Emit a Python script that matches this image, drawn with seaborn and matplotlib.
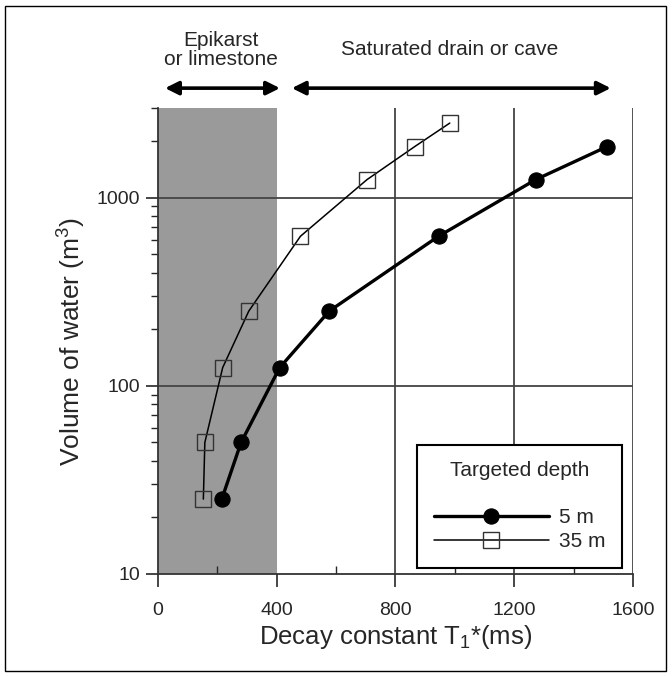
import numpy as np
import pandas as pd
import matplotlib
matplotlib.use('Agg')
import matplotlib.pyplot as plt
from matplotlib.patches import Rectangle
from matplotlib.ticker import FixedLocator, LogLocator, NullFormatter
import seaborn as sns

sns.set_theme(style='ticks')
plt.rcParams['font.family'] = ['Liberation Sans', 'DejaVu Sans']
plt.rcParams['mathtext.fontset'] = 'custom'
plt.rcParams['mathtext.rm'] = 'Liberation Sans'
plt.rcParams['mathtext.it'] = 'Liberation Sans'
plt.rcParams['mathtext.default'] = 'regular'

# volumes of water (m3) and decay constants (ms)
vol_5m = [25, 50, 125, 250, 625, 1250, 1875]
t1_5m = [215, 280, 410, 577, 945, 1272, 1513]
vol_35m = [25, 50, 125, 250, 625, 1250, 1875, 2500]
t1_35m = [153, 158, 218, 306, 480, 704, 865, 983]

depth_labels = ['5 m', '35 m']
zone_labels = ['Epikarst\nor limestone', 'Saturated drain or cave']
zone_spans = [(24, 411), (451, 1525)]

df5 = pd.DataFrame({'t1': t1_5m, 'vol': vol_5m})
df35 = pd.DataFrame({'t1': t1_35m, 'vol': vol_35m})

fig = plt.figure(figsize=(6.72, 6.76), dpi=100)
ax = fig.add_axes([0.235, 0.151, 0.707, 0.689])

ax.axvspan(0, 400, color='#9a9a9a', lw=0, zorder=0)
for x in [800, 1200, 1600]:
    ax.axvline(x, color='#444444', lw=1.3, zorder=1)
for y in [100, 1000]:
    ax.axhline(y, color='#444444', lw=1.3, zorder=1)

sns.lineplot(data=df5, x='t1', y='vol', ax=ax, color='black', lw=2.4,
             marker='o', markersize=11, markeredgecolor='black',
             markerfacecolor='black', estimator=None, sort=False,
             label=depth_labels[0], zorder=3)
sns.lineplot(data=df35, x='t1', y='vol', ax=ax, color='black', lw=1.1,
             marker='s', markersize=11, markeredgecolor='#333333',
             markeredgewidth=1.0, markerfacecolor='none', estimator=None,
             sort=False, label=depth_labels[1], zorder=3)

ax.set_yscale('log')
ax.set_xlim(0, 1600)
ax.set_ylim(10, 3000)
ax.set_xticks([0, 400, 800, 1200, 1600])
ax.xaxis.set_minor_locator(FixedLocator([200, 600, 1000, 1400]))
ax.set_yticks([10, 100, 1000])
ax.set_yticklabels(['10', '100', '1000'])
ax.yaxis.set_minor_locator(LogLocator(base=10, subs=np.arange(2, 10)))
ax.yaxis.set_minor_formatter(NullFormatter())

ax.tick_params(axis='x', which='major', direction='out', length=9, width=1.2,
               labelsize=14, pad=11)
ax.tick_params(axis='x', which='minor', direction='in', length=6, width=1.0)
ax.tick_params(axis='y', which='major', direction='out', length=9, width=1.2,
               labelsize=14, pad=4)
ax.tick_params(axis='y', which='minor', direction='out', length=5, width=1.0)

sns.despine(ax=ax, top=True, right=True)
for s in ['left', 'bottom']:
    ax.spines[s].set_linewidth(1.3)
    ax.spines[s].set_color('#333333')

ax.set_xlabel('Decay constant T$_1$*(ms)', fontsize=18.5, labelpad=3)
ax.set_ylabel('Volume of water (m$^3$)', fontsize=19, labelpad=6)

trans = ax.get_xaxis_transform()
for (x0, x1), lab in zip(zone_spans, zone_labels):
    ax.annotate('', xy=(x0, 1.043), xytext=(x1, 1.043), xycoords=trans,
                textcoords=trans,
                arrowprops=dict(arrowstyle='<|-|>', color='black', lw=2.6,
                                mutation_scale=20, shrinkA=0, shrinkB=0),
                annotation_clip=False)
    ax.text((x0 + x1) / 2 - 5, 1.125, lab, transform=trans, ha='center',
            va='center', fontsize=15, linespacing=1.05, clip_on=False)

leg = ax.legend(title='Targeted depth', loc='lower right',
                bbox_to_anchor=(0.977, 0.013), borderaxespad=0,
                fontsize=15, title_fontsize=15, handlelength=5.5,
                handletextpad=0.5, labelspacing=0.25, borderpad=0.8,
                fancybox=False, framealpha=1, edgecolor='black')
leg.get_frame().set_linewidth(1.5)
leg._legend_box.sep = 20

fig.patches.append(Rectangle((5 / 672, 5 / 676), 661 / 672, 665 / 676,
                             transform=fig.transFigure, fill=False,
                             edgecolor='black', lw=1.0))

fig.savefig('out.png', dpi=100)
